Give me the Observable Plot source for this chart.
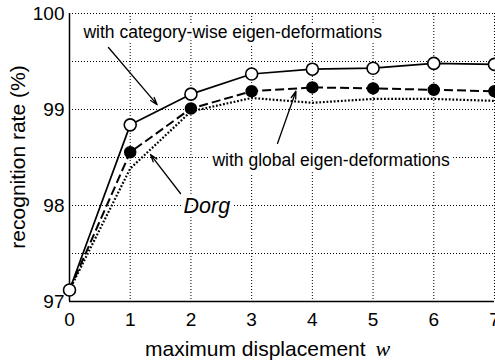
<!DOCTYPE html>
<html>
<head>
<meta charset="utf-8">
<script src="https://cdn.jsdelivr.net/npm/d3@7"></script>
<script src="https://cdn.jsdelivr.net/npm/@observablehq/plot@0.6"></script>
<style>
  html, body { margin: 0; padding: 0; background: white; overflow: hidden; }
  #chart { width: 495px; height: 364px; }
</style>
</head>
<body>
<div id="chart"></div>
<script>
// displacement w
const displacement = [0, 1, 2, 3, 4, 5, 6, 7];
// recognition rates (%)
const categoryWise = [97.12, 98.84, 99.16, 99.37, 99.42, 99.43, 99.48, 99.47];
const globalEigen  = [97.12, 98.555, 99.01, 99.19, 99.23, 99.22, 99.205, 99.19];
const dorg         = [97.12, 98.385, 98.98, 99.12, 99.07, 99.11, 99.11, 99.09];

const xTicks = [0, 1, 2, 3, 4, 5, 6, 7];
const yTicks = [97, 98, 99, 100];
const xGrid = [1, 2, 3, 4, 5, 6, 7];
const yGrid = [97.5, 98, 98.5, 99, 99.5, 100];

// annotations (data units)
const labels = [
  {x: 0.23, y: 99.808, text: "with category-wise eigen-deformations", italic: false},
  {x: 2.355, y: 98.475, text: "with global eigen-deformations", italic: false},
  {x: 1.878, y: 97.99, text: "Dorg", italic: true}
];
const arrows = [
  {x1: 0.642, y1: 99.646, x2: 1.444, y2: 99.05},
  {x1: 3.426, y1: 98.646, x2: 3.73, y2: 99.19},
  {x1: 1.828, y1: 98.125, x2: 1.334, y2: 98.531}
];

const mk = (ys) => displacement.map((x, i) => ({x, y: ys[i]}));
const sCat = mk(categoryWise), sGlob = mk(globalEigen), sDorg = mk(dorg);

const plot = Plot.plot({
  width: 495,
  height: 364,
  marginLeft: 69,
  marginRight: 1,
  marginTop: 13,
  marginBottom: 63,
  style: {fontFamily: "'Liberation Sans', Arial, sans-serif", fontSize: "19px", color: "black", background: "white"},
  x: {domain: [0, 7]},
  y: {domain: [97, 100]},
  marks: [
    Plot.ruleX(xGrid, {stroke: "black", strokeWidth: 1, strokeDasharray: "1,2"}),
    Plot.ruleY(yGrid, {stroke: "black", strokeWidth: 1, strokeDasharray: "1,2"}),
    Plot.ruleX([0], {stroke: "black", strokeWidth: 1.5}),
    Plot.ruleY([97], {stroke: "black", strokeWidth: 1.5}),
    Plot.axisX({ticks: xTicks, tickSize: 0, tickPadding: 11, label: null, tickFormat: d3.format("d"), fontSize: 19}),
    Plot.axisY({ticks: yTicks, tickSize: 0, tickPadding: 5, label: null, tickFormat: d3.format("d"), fontSize: 19}),
    Plot.line(sDorg, {x: "x", y: "y", stroke: "black", strokeWidth: 2.2, strokeDasharray: "1.8,1.8", strokeLinecap: "butt", strokeLinejoin: "miter"}),
    Plot.line(sGlob, {x: "x", y: "y", stroke: "black", strokeWidth: 2, strokeDasharray: "9,4", strokeLinecap: "butt"}),
    Plot.line(sCat, {x: "x", y: "y", stroke: "black", strokeWidth: 1.7}),
    Plot.dot(sGlob, {x: "x", y: "y", r: 5.5, fill: "black", stroke: "black"}),
    Plot.dot(sCat, {x: "x", y: "y", r: 6, fill: "white", stroke: "black", strokeWidth: 1.6}),
    Plot.text(labels.filter(d => !d.italic), {x: "x", y: "y", text: "text", textAnchor: "start", fontSize: 17.5, fill: "black", stroke: "white", strokeWidth: 8}),
    Plot.text(labels.filter(d => d.italic), {x: "x", y: "y", text: "text", textAnchor: "start", fontSize: 21.5, fontStyle: "italic", fill: "black", stroke: "white", strokeWidth: 6}),
    Plot.arrow(arrows, {x1: "x1", y1: "y1", x2: "x2", y2: "y2", stroke: "black", strokeWidth: 1.3, headLength: 9, headAngle: 35})
  ]
});

const svg = d3.select(plot);
// x axis title
const xt = svg.append("text")
  .attr("x", 145)
  .attr("y", 356)
  .attr("text-anchor", "start")
  .attr("font-family", "'Liberation Sans', Arial, sans-serif")
  .attr("font-size", 21)
  .attr("fill", "black");
xt.append("tspan").text("maximum displacement");
xt.append("tspan").attr("dx", 10).attr("font-family", "'Liberation Serif', 'Times New Roman', serif").attr("font-style", "italic").attr("font-size", 22).text("w");
// y axis title
svg.append("text")
  .attr("transform", "translate(25,157) rotate(-90)")
  .attr("text-anchor", "middle")
  .attr("font-family", "'Liberation Sans', Arial, sans-serif")
  .attr("font-size", 21)
  .attr("fill", "black")
  .text("recognition rate (%)");

document.getElementById("chart").appendChild(plot);
</script>
</body>
</html>
